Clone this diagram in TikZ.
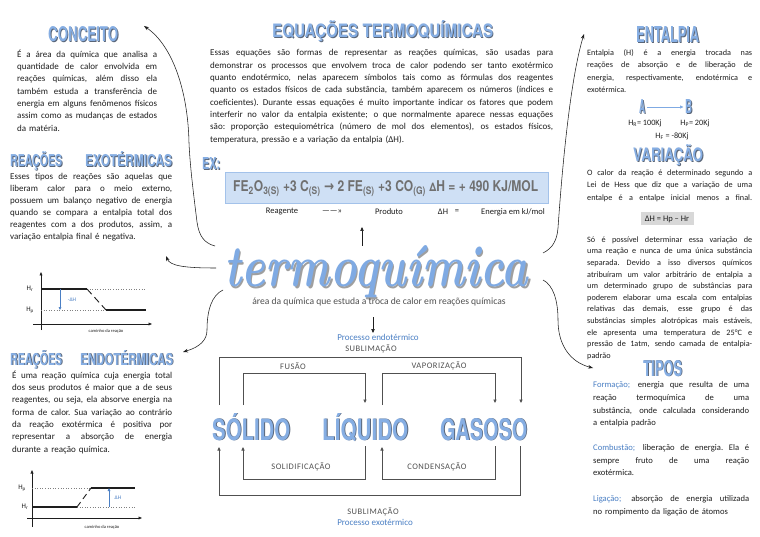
\documentclass[tikz,border=0pt]{standalone}
\usepackage{fontspec}
\setmainfont{Carlito}
\newfontfamily\titlef{TeX Gyre Heros}
\newfontfamily\dejavu{DejaVu Sans}
\newfontfamily\lmbi{lmroman10-bolditalic.otf}
\usetikzlibrary{arrows.meta}
\definecolor{tblue}{HTML}{86AEE3}
\definecolor{tshadow}{HTML}{5A6678}
\definecolor{lblue}{HTML}{4A7FC4}
\definecolor{boxfill}{HTML}{CFE0F5}
\definecolor{boxline}{HTML}{A3C2EA}
\definecolor{ink}{HTML}{1E1E1E}
\definecolor{cgray}{HTML}{505050}
\definecolor{fgray}{HTML}{707070}
\definecolor{dgray}{HTML}{D8D8D8}
\definecolor{aqblue}{HTML}{7FAAE3}
\newcommand\jl[2]{\noindent\hbox to #1pt{\spaceskip=0.24em plus 1fil\xspaceskip=0.24em plus 1fil\relax #2}\par}
\newcommand\lastl[1]{\noindent\hbox{#1}\par}
\newcommand\pfont{\fontsize{9}{12.3}\selectfont}
\newcommand\rfont{\fontsize{8.2}{12.3}\selectfont}
\newcommand\ttl[6]{%
  \node[tshad] (#1s) at (#2+0.9,#3+0.9) {\resizebox{#4pt}{#5pt}{#6}};
  \node[tmain] (#1) at (#2,#3) {\resizebox{#4pt}{#5pt}{#6}};}
\begin{document}
\begin{tikzpicture}[x=1pt,y=-1pt,
  tshad/.style={inner sep=0, anchor=base west, text=tshadow, font=\titlef\bfseries},
  tmain/.style={inner sep=0, anchor=base west, text=tblue, font=\titlef\bfseries},
  para/.style={inner sep=0, anchor=north west, align=left, text=ink},
  lab/.style={inner sep=0.5, text=ink, font=\fontsize{8.5}{10}\selectfont},
  cyclab/.style={inner sep=0.5, text=cgray, font=\fontsize{8.5}{10}\selectfont\addfontfeatures{LetterSpace=6}},
  bluelab/.style={inner sep=0.5, text=lblue, font=\fontsize{9}{10}\selectfont},
  curv/.style={draw=ink, line width=0.55pt, -{Stealth[length=5pt,width=3.6pt]}},
  cyc/.style={draw=cgray, line width=0.7pt},
  cyca/.style={cyc, -{Triangle[length=3.5pt,width=3.2pt]}},
  axis/.style={draw=ink, line width=0.7pt, -{Triangle[length=3.5pt,width=2.8pt]}},
  hline/.style={draw=ink, line width=1.1pt},
  dotl/.style={draw=gray, line width=0.6pt, dotted},
  glab/.style={inner sep=0, text=ink, font=\fontsize{7}{8}\selectfont},
  tiny/.style={inner sep=0, text=ink, font=\fontsize{4.5}{5}\selectfont}
]
\useasboundingbox (0,0) rectangle (760,537);
\fill[white] (0,0) rectangle (760,537);

% ---------- titles ----------
\ttl{conceito}{48}{42}{70}{15}{CONCEITO}
\ttl{exo1}{10}{167}{52}{15}{REAÇÕES}
\ttl{exo2}{85}{167}{87}{15}{EXOTÉRMICAS}
\ttl{endo1}{10}{365}{52}{15}{REAÇÕES}
\ttl{endo2}{80}{365}{93}{15}{ENDOTÉRMICAS}
\ttl{equacoes}{272}{38}{221}{17}{EQUAÇÕES TERMOQUÍMICAS}
\ttl{ex}{202}{170}{18}{12}{EX:}
\ttl{entalpia}{636}{43}{63}{16}{ENTALPIA}
\ttl{variacao}{633}{162}{70}{17}{VARIAÇÃO}
\ttl{tipos}{643}{376}{39}{16}{TIPOS}
\ttl{nA}{639}{114}{6}{14}{A}
\ttl{nB}{685}{114}{7}{14}{B}
\ttl{solido}{212}{440}{78}{27}{SÓLIDO}
\ttl{liquido}{322}{440}{86}{27}{LÍQUIDO}
\ttl{gasoso}{440}{440}{87}{22}{GASOSO}

% ---------- left column ----------
\node[para, font=\pfont, text width=142pt] (conceitotxt) at (17,49.5) {%
\jl{140}{É a área da química que analisa a}%
\jl{140}{quantidade de calor envolvida em}%
\jl{140}{reações químicas, além disso ela}%
\jl{140}{também estuda a transferência de}%
\jl{140}{energia em alguns fenômenos físicos}%
\jl{140}{assim como as mudanças de estados}%
\lastl{da matéria.}};

\node[para, font=\fontsize{9}{12}\selectfont, text width=164pt] (exotxt) at (10,173.5) {%
\jl{162}{Esses tipos de reações são aquelas que}%
\jl{162}{liberam calor para o meio externo,}%
\jl{162}{possuem um balanço negativo de energia}%
\jl{162}{quando se compara a entalpia total dos}%
\jl{162}{reagentes com a dos produtos, assim, a}%
\lastl{variação entalpia final é negativa.}};

\node[para, font=\pfont, text width=162pt] (endotxt) at (12,370.5) {%
\jl{160}{É uma reação química cuja energia total}%
\jl{160}{dos seus produtos é maior que a de seus}%
\jl{160}{reagentes, ou seja, ela absorve energia na}%
\jl{160}{forma de calor. Sua variação ao contrário}%
\jl{160}{da reação exotérmica é positiva por}%
\jl{160}{representar a absorção de energia}%
\lastl{durante a reação química.}};

% graph 1 (exothermic)
\draw[axis] (33,324) -- (152,324);
\draw[axis] (41,330) -- (41,272);
\draw[dotl] (87,289) -- (146,289);
\draw[dotl] (41,310) -- (106,310);
\draw[hline] (41,289) -- (87,289);
\draw[draw=ink, line width=0.9pt, dash pattern=on 7pt off 4pt] (87,289) -- (106,310);
\draw[hline] (106,310) -- (146,310);
\draw[draw=lblue, line width=0.6pt, -{Triangle[length=3pt,width=2.6pt]}] (60,289.5) -- (60,310);
\node[glab] (g1hr) at (30,289) {H\textsubscript{r}};
\node[glab] (g1hp) at (30,310) {H\textsubscript{p}};
\node[inner sep=0, text=lblue, font=\fontsize{5.5}{6}\selectfont] (g1dh) at (72,300) {-ΔH};
\node[tiny] (g1cam) at (106,331) {caminho da reação};

% graph 2 (endothermic)
\draw[axis] (27,518) -- (142,518);
\draw[axis] (32,527) -- (32,470);
\draw[dotl] (32,488) -- (91,488);
\draw[dotl] (77,507) -- (135,507);
\draw[hline] (32,507) -- (77,507);
\draw[draw=ink, line width=0.9pt, dash pattern=on 6pt off 4pt] (77,507) -- (91,488);
\draw[hline] (91,488) -- (135,488);
\draw[draw=lblue, line width=0.6pt, -{Triangle[length=3pt,width=2.6pt]}] (109,506.5) -- (109,488);
\node[glab] (g2hp) at (22,488) {H\textsubscript{p}};
\node[glab] (g2hr) at (25,507) {H\textsubscript{r}};
\node[inner sep=0, text=lblue, font=\fontsize{5.5}{6}\selectfont] (g2dh) at (118,498) {ΔH};
\node[tiny] (g2cam) at (102,527) {caminho da reação};

% ---------- centre ----------
\node[para, font=\pfont, text width=345pt] (eqtxt) at (210,49.5) {%
\jl{343}{Essas equações são formas de representar as reações químicas, são usadas para}%
\jl{343}{demonstrar os processos que envolvem troca de calor podendo ser tanto exotérmico}%
\jl{343}{quanto endotérmico, nelas aparecem símbolos tais como as fórmulas dos reagentes}%
\jl{343}{quanto os estados físicos de cada substância, também aparecem os números (índices e}%
\jl{343}{coeficientes). Durante essas equações é muito importante indicar os fatores que podem}%
\jl{343}{interferir no valor da entalpia existente; o que normalmente aparece nessas equações}%
\jl{343}{são: proporção estequiométrica (número de mol dos elementos), os estados físicos,}%
\lastl{temperatura, pressão e a variação da entalpia (ΔH).}};

\node[draw=boxline, fill=boxfill, line width=0.6pt, minimum width=323pt, minimum height=31pt, inner sep=0] (exbox) at (386.5,187.5) {};
\node[inner sep=0, anchor=base west, text=fgray, font=\titlef\bfseries] (formula) at (233,192) {\resizebox{305pt}{11pt}{FE\textsubscript{2}O\textsubscript{3(S)} +3 C\textsubscript{(S)} {\dejavu →} 2 FE\textsubscript{(S)} +3 CO\textsubscript{(G)} {\footnotesize Δ}H = + 490 KJ/MOL}};

\node[lab] (reag) at (282,212) {Reagente};
\node[lab] (seta) at (332,212) {------»};
\node[lab] (prod) at (389,212) {Produto};
\node[lab] (dh) at (443,212) {ΔH};
\node[lab] (eq) at (457,212) {=};
\node[lab] (energ) at (513,212) {Energia em kJ/mol};

\node[inner sep=0, anchor=base west, text=gray!75, font=\lmbi] (termos) at (225.4,288.4) {\resizebox{304pt}{41pt}{termoquímica}};
\node[inner sep=0, anchor=base west, text=aqblue, font=\lmbi] (termo) at (224,287) {\resizebox{304pt}{41pt}{termoquímica}};
\node[inner sep=0, text=cgray, font=\fontsize{9.6}{10}\selectfont] (sub) at (379,302) {área da química que estuda a troca de calor em reações químicas};

\coordinate (upS) at (362,246);
\coordinate (upE) at (362,227);
\draw[draw=ink, line width=0.6pt, -{Triangle[length=4pt,width=3.4pt]}] (upS) -- (upE);
\coordinate (dnS) at (373,317);
\coordinate (dnE) at (373,333);
\draw[draw=ink, line width=0.6pt, -{Triangle[length=4pt,width=3.4pt]}] (dnS) -- (dnE);

% cycle
\node[bluelab] (pendo) at (378,337) {Processo endotérmico};
\node[cyclab] (subl1) at (371,349) {SUBLIMAÇÃO};
\node[cyclab] (fusao) at (293,366) {FUSÃO};
\node[cyclab] (vapor) at (439,366) {VAPORIZAÇÃO};
\node[cyclab] (solid) at (301,467) {SOLIDIFICAÇÃO};
\node[cyclab] (conde) at (437,467) {CONDENSAÇÃO};
\node[cyclab] (subl2) at (373,512) {SUBLIMAÇÃO};
\node[bluelab] (pexo) at (375,522) {Processo exotérmico};

\draw[cyca] (219,405) -- (219,357) -- (521,357) -- (521,403);
\draw[cyca] (243,405) -- (243,373) -- (365,373) -- (365,403);
\draw[cyca] (382,405) -- (382,373) -- (495,373) -- (495,403);
\draw[cyca] (365,446) -- (365,479) -- (243,479) -- (243,447);
\draw[cyca] (495,446) -- (495,479) -- (382,479) -- (382,447);
\draw[cyca] (520,446) -- (520,495) -- (219,495) -- (219,447);

% curved connectors
\coordinate (cA) at (215,246);
\coordinate (cB) at (216,268);
\coordinate (cC) at (223,290);
\coordinate (cD) at (543,253);
\coordinate (cE) at (543,280);
\draw[curv] (cA) .. controls (204,243) and (199,236) .. (197,222) .. controls (193,190) and (190,165) .. (189,143) .. controls (188,90) and (172,45) .. (144,26);
\draw[curv] (cB) .. controls (185,268) and (170,266) .. (166,256);
\draw[curv] (cC) .. controls (212,295) and (207,310) .. (207,330) .. controls (207,340) and (200,347) .. (183,352);
\draw[curv] (cD) .. controls (553,248) and (557,240) .. (558,228) .. controls (562,170) and (570,80) .. (584,34);
\draw[curv] (cE) .. controls (553,285) and (558,300) .. (558,320) .. controls (558,345) and (570,362) .. (593,368);

% ---------- right column ----------
\node[para, font=\rfont, text width=167pt] (entxt) at (587,49.5) {%
\jl{165}{Entalpia (H) é a energia trocada nas}%
\jl{165}{reações de absorção e de liberação de}%
\jl{165}{energia, respectivamente, endotérmica e}%
\lastl{exotérmica.}};

\draw[draw=aqblue, line width=0.7pt, -{Triangle[length=3.5pt,width=3pt]}] ([xshift=1.5pt]nA.east) -- ([xshift=-1.5pt]nB.west);
\node[lab, font=\fontsize{8.2}{10}\selectfont] (hr) at (645,123) {H\textsubscript{R}= 100Kj};
\node[lab, font=\fontsize{8.2}{10}\selectfont] (hp) at (695,123) {H\textsubscript{P}= 20Kj};
\node[lab, font=\fontsize{8.2}{10}\selectfont] (hf) at (672,136) {H\textsubscript{F} = -80Kj};

\node[para, font=\fontsize{8.2}{12.5}\selectfont, text width=167pt] (vartxt) at (587,169.5) {%
\jl{165}{O calor da reação é determinado segundo a}%
\jl{165}{Lei de Hess que diz que a variação de uma}%
\jl{165}{entalpe é a entalpe inicial menos a final.}};

\node[fill=dgray, minimum width=53pt, minimum height=13pt, inner sep=0, text=ink, font=\fontsize{8.5}{10}\selectfont] (dhbox) at (667,219) {ΔH = Hp – Hr};

\node[para, font=\fontsize{8.2}{11.6}\selectfont, text width=167pt] (vartxt2) at (587,236.5) {%
\jl{165}{Só é possível determinar essa variação de}%
\jl{165}{uma reação e nunca de uma única substância}%
\jl{165}{separada. Devido a isso diversos químicos}%
\jl{165}{atribuíram um valor arbitrário de entalpia a}%
\jl{165}{um determinado grupo de substâncias para}%
\jl{165}{poderem elaborar uma escala com entalpias}%
\jl{165}{relativas das demais, esse grupo é das}%
\jl{165}{substâncias simples alotrópicas mais estáveis,}%
\jl{165}{ele apresenta uma temperatura de 25°C e}%
\jl{165}{pressão de 1atm, sendo camada de entalpia-}%
\lastl{padrão}};

\node[para, font=\fontsize{8.6}{12.7}\selectfont, text width=158pt] (formtxt) at (593,381.5) {%
\jl{156}{\textcolor{lblue}{Formação;} energia que resulta de uma}%
\jl{156}{reação termoquímica de uma}%
\jl{156}{substância, onde calculada considerando}%
\lastl{a entalpia padrão}};

\node[para, font=\fontsize{8.6}{12.5}\selectfont, text width=158pt] (combtxt) at (593,444.5) {%
\jl{156}{\textcolor{lblue}{Combustão;} liberação de energia. Ela é}%
\jl{156}{sempre fruto de uma reação}%
\lastl{exotérmica.}};

\node[para, font=\fontsize{8.6}{12.5}\selectfont, text width=158pt] (ligtxt) at (593,495.5) {%
\jl{156}{\textcolor{lblue}{Ligação;} absorção de energia utilizada}%
\lastl{no rompimento da ligação de átomos}};
\end{tikzpicture}
\end{document}
